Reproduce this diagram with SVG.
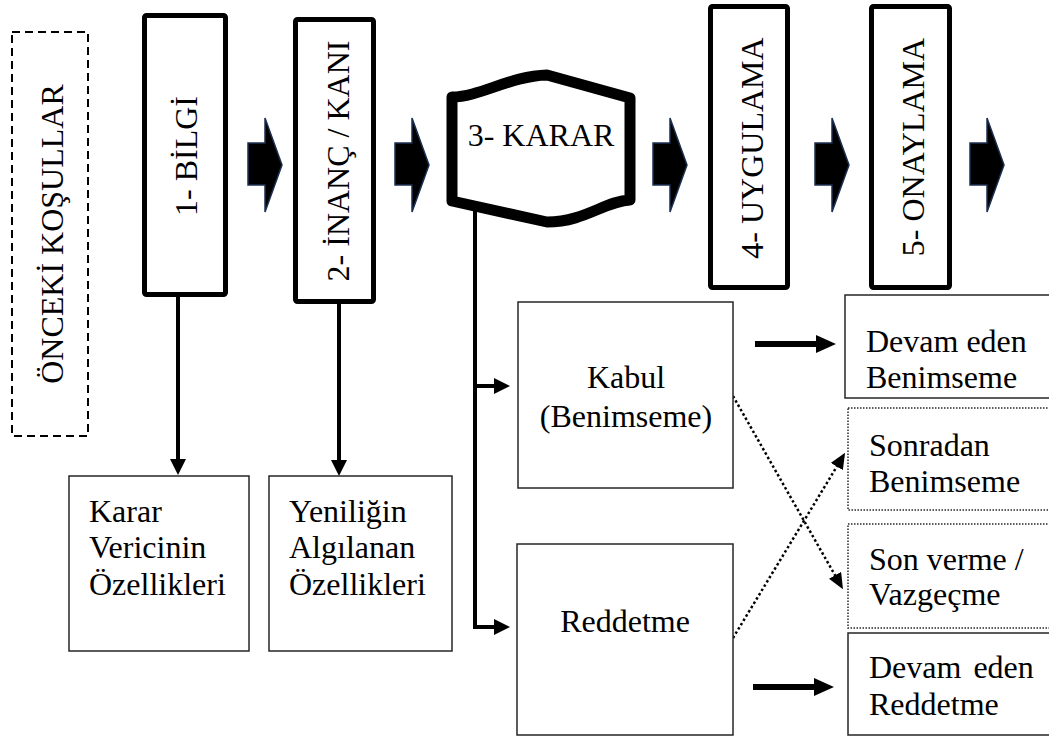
<svg xmlns="http://www.w3.org/2000/svg" width="1049" height="738" viewBox="0 0 1049 738">
  <style>
    .t { font-family: "Liberation Serif", "Times New Roman", serif; font-size: 32px; fill: #000; }
    .mid { text-anchor: middle; }
    .stage { fill: #fff; stroke: #000; stroke-width: 5; stroke-linejoin: round; }
    .plain { fill: #fff; stroke: #262626; stroke-width: 1.5; }
    .dotbox { fill: #fff; stroke: #262626; stroke-width: 1.5; stroke-dasharray: 1.5 1.5; }
    .dash { fill: #fff; stroke: #000; stroke-width: 2; stroke-dasharray: 8 5; }
    .link { fill: none; stroke: #000; stroke-width: 4; }
    .bold { fill: none; stroke: #000; stroke-width: 6; }
    .dots { fill: none; stroke: #000; stroke-width: 2.5; stroke-dasharray: 2.5 2.5; }
    .block { fill: #000; stroke: #1c2f50; stroke-width: 1.5; stroke-linejoin: miter; }
  </style>
  <defs>
    <marker id="tri" markerUnits="userSpaceOnUse" viewBox="0 0 16 16" markerWidth="16" markerHeight="16" refX="8" refY="8" orient="auto">
      <path d="M0,0 L16,8 L0,16 Z" fill="#000"/>
    </marker>
    <marker id="triBig" markerUnits="userSpaceOnUse" viewBox="0 0 20 18" markerWidth="20" markerHeight="18" refX="10" refY="9" orient="auto">
      <path d="M0,0 L20,9 L0,18 Z" fill="#000"/>
    </marker>
    <marker id="triDot" markerUnits="userSpaceOnUse" viewBox="0 0 16 14" markerWidth="16" markerHeight="14" refX="10" refY="7" orient="auto">
      <path d="M0,0 L16,7 L0,14 Z" fill="#000"/>
    </marker>
    <!-- block arrow between stages, drawn at origin -->
    <path id="blockArrow" d="M0,143 H17 V118 L34,165 L17,212 V185 H0 Z"/>
  </defs>

  <rect width="1049" height="738" fill="#fff"/>

  <!-- connectors -->
  <g id="connectors">
    <use href="#blockArrow" class="block" x="248"/>
    <use href="#blockArrow" class="block" x="395"/>
    <use href="#blockArrow" class="block" x="653"/>
    <use href="#blockArrow" class="block" x="815"/>
    <use href="#blockArrow" class="block" x="970"/>

    <path class="link" d="M178,297 V467" marker-end="url(#tri)"/>
    <path class="link" d="M339,304 V468" marker-end="url(#tri)"/>

    <path class="link" d="M475,205 V627 H502" marker-end="url(#tri)"/>
    <path class="link" d="M475,386 H502" marker-end="url(#tri)"/>

    <path class="bold" d="M755,344 H826" marker-end="url(#triBig)"/>
    <path class="bold" d="M753,687 H824" marker-end="url(#triBig)"/>

    <path class="dots" d="M733,396 L840,584" marker-end="url(#triDot)"/>
    <path class="dots" d="M733,638 L842,458" marker-end="url(#triDot)"/>
  </g>

  <!-- preconditions -->
  <g id="onceki">
    <rect class="dash" x="12" y="32" width="76" height="404"/>
    <text class="t mid" transform="translate(52,234) rotate(-90)" y="11">ÖNCEKİ KOŞULLAR</text>
  </g>

  <!-- stage 1 -->
  <g id="bilgi">
    <rect class="stage" x="144.5" y="15.5" width="81" height="279" rx="2"/>
    <text class="t mid" transform="translate(186,156) rotate(-90)" y="11">1- BİLGİ</text>
  </g>

  <!-- stage 2 -->
  <g id="inanc">
    <rect class="stage" x="295.5" y="19.5" width="78" height="282" rx="2"/>
    <text class="t mid" transform="translate(338,161) rotate(-90)" y="11">2- İNANÇ / KANI</text>
  </g>

  <!-- stage 3 -->
  <g id="karar">
    <path d="M452,97 C480,97 510,76 547,75 L630,98 L630,200 C605,201 585,222 547,222 L452,201 Z" fill="#fff" stroke="#000" stroke-width="11" stroke-linejoin="round"/>
    <text class="t mid" x="541" y="146">3- KARAR</text>
  </g>

  <!-- stage 4 -->
  <g id="uygulama">
    <rect class="stage" x="710.5" y="6.5" width="77" height="281" rx="2"/>
    <text class="t mid" transform="translate(752,148) rotate(-90)" y="11">4- UYGULAMA</text>
  </g>

  <!-- stage 5 -->
  <g id="onaylama">
    <rect class="stage" x="871.5" y="6.5" width="78" height="281" rx="2"/>
    <text class="t mid" transform="translate(913,147) rotate(-90)" y="11">5- ONAYLAMA</text>
  </g>

  <!-- characteristics -->
  <g id="karar-verici">
    <rect class="plain" x="69" y="476" width="180" height="175"/>
    <text class="t" x="89" y="522">Karar</text>
    <text class="t" x="89" y="558">Vericinin</text>
    <text class="t" x="89" y="595">Özellikleri</text>
  </g>

  <g id="yenilik">
    <rect class="plain" x="269" y="476" width="183" height="175"/>
    <text class="t" x="289" y="522">Yeniliğin</text>
    <text class="t" x="289" y="558">Algılanan</text>
    <text class="t" x="289" y="595">Özellikleri</text>
  </g>

  <!-- decision outcomes -->
  <g id="kabul">
    <rect class="plain" x="518" y="302" width="215" height="186"/>
    <text class="t mid" x="626" y="388">Kabul</text>
    <text class="t mid" x="626" y="427">(Benimseme)</text>
  </g>

  <g id="reddetme">
    <rect class="plain" x="517" y="544" width="216" height="191"/>
    <text class="t mid" x="625" y="632">Reddetme</text>
  </g>

  <!-- follow-up states -->
  <g id="devam-benimseme">
    <rect class="plain" x="845" y="295" width="220" height="103"/>
    <text class="t" x="866" y="352">Devam eden</text>
    <text class="t" x="866" y="388">Benimseme</text>
  </g>

  <g id="sonradan">
    <rect class="dotbox" x="848" y="408" width="220" height="102"/>
    <text class="t" x="869" y="456">Sonradan</text>
    <text class="t" x="869" y="492">Benimseme</text>
  </g>

  <g id="son-verme">
    <rect class="dotbox" x="848" y="524" width="220" height="104"/>
    <text class="t" x="869" y="570">Son verme /</text>
    <text class="t" x="869" y="605">Vazgeçme</text>
  </g>

  <g id="devam-reddetme">
    <rect class="plain" x="848" y="633" width="220" height="102" stroke-width="2"/>
    <text class="t" x="869" y="678" word-spacing="4">Devam eden</text>
    <text class="t" x="869" y="715">Reddetme</text>
  </g>
</svg>
